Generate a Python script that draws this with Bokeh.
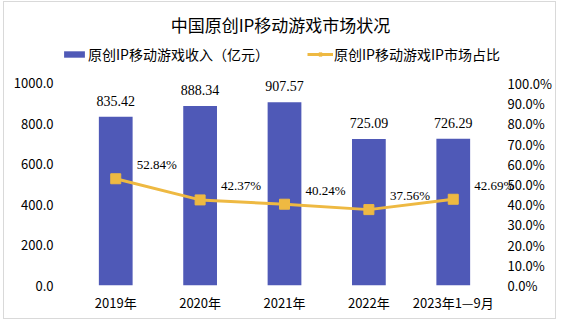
from bokeh.plotting import figure
from bokeh.models import (ColumnDataSource, Range1d, LinearAxis, NumeralTickFormatter, FactorRange,
                          PrintfTickFormatter, LabelSet, Label, Legend, LegendItem, FixedTicker)
from bokeh.embed import file_html
from bokeh.resources import INLINE

categories = ["2019年", "2020年", "2021年", "2022年", "2023年1—9月"]
revenue = [835.42, 888.34, 907.57, 725.09, 726.29]
share = [52.84, 42.37, 40.24, 37.56, 42.69]
left_ticks = [0, 200, 400, 600, 800, 1000]
right_ticks = [0, 10, 20, 30, 40, 50, 60, 70, 80, 90, 100]
title_text = "中国原创IP移动游戏市场状况"
bar_name = "原创IP移动游戏收入（亿元）"
line_name = "原创IP移动游戏IP市场占比"

FONT = "Noto Sans CJK SC"
BAR_COLOR = "#4F59B7"
LINE_COLOR = "#EEB942"

src = ColumnDataSource(dict(
    cat=categories,
    rev=revenue,
    share=share,
    rev_txt=[f"{v:.2f}" for v in revenue],
    share_txt=[f"{v:.2f}%" for v in share],
))

# frame spans nearly whole canvas; axes ticks stop at 1000 / 100%
Y_TOP = 1391.0
p = figure(x_range=FactorRange(*categories, range_padding=0.114, range_padding_units="percent"),
           y_range=Range1d(0, Y_TOP), width=553, height=318,
           output_backend="svg", toolbar_location=None,
           min_border_left=45, min_border_right=38, min_border_top=2, min_border_bottom=35)
p.styles = {"border": "1px solid #d9d9d9"}
p.margin = (1, 0, 0, 3)
p.outline_line_color = None
p.xgrid.grid_line_color = None
p.ygrid.grid_line_color = None

p.extra_y_ranges = {"pct": Range1d(0, Y_TOP / 10.0)}

bars = p.vbar(x="cat", top="rev", width=0.4, source=src, fill_color=BAR_COLOR, line_color=None)
line = p.line(x="cat", y="share", source=src, y_range_name="pct", line_color=LINE_COLOR, line_width=3)
pts = p.scatter(x="cat", y="share", source=src, y_range_name="pct", marker="square", size=10,
                fill_color=LINE_COLOR, line_color=LINE_COLOR)

# axes
for ax in [p.xaxis[0], p.yaxis[0]]:
    ax.axis_line_color = None
    ax.major_tick_line_color = None
    ax.minor_tick_line_color = None
    ax.major_label_text_font = FONT
    ax.major_label_text_font_size = "13px"
    ax.major_label_text_color = "#000000"
    ax.major_tick_in = 0
    ax.major_tick_out = 0

p.yaxis[0].ticker = FixedTicker(ticks=left_ticks)
p.yaxis[0].formatter = NumeralTickFormatter(format="0.0")
p.yaxis[0].major_label_standoff = -4
p.xaxis[0].major_label_standoff = 7

rax = LinearAxis(y_range_name="pct", ticker=FixedTicker(ticks=right_ticks),
                 formatter=PrintfTickFormatter(format="%.1f%%"))
rax.axis_line_color = None
rax.major_tick_line_color = None
rax.minor_tick_line_color = None
rax.major_tick_in = 0
rax.major_tick_out = 0
rax.major_label_text_font = FONT
rax.major_label_text_font_size = "13px"
rax.major_label_text_color = "#000000"
rax.major_label_standoff = -12
p.add_layout(rax, "right")

# data labels
p.add_layout(LabelSet(x="cat", y="rev", text="rev_txt", source=src, y_offset=16,
                      text_align="center", text_baseline="middle",
                      text_font=FONT, text_font_size="14px", text_color="#000000"))
p.add_layout(LabelSet(x="cat", y="share", text="share_txt", source=src, y_range_name="pct",
                      x_offset=21, y_offset=14, text_align="left", text_baseline="middle",
                      text_font=FONT, text_font_size="13px", text_color="#000000"))

# title
p.add_layout(Label(x=231, y=261, x_units="screen", y_units="screen", text=title_text,
                   text_align="center", text_baseline="middle",
                   text_font=FONT, text_font_size="17px", text_color="#000000"))

legend = Legend(items=[LegendItem(label=bar_name, renderers=[bars]),
                       LegendItem(label=line_name, renderers=[line, pts])],
                location=(12, 221), orientation="horizontal")
legend.background_fill_alpha = 0
legend.border_line_color = None
legend.padding = 0
legend.margin = 0
legend.spacing = 38
legend.glyph_width = 26
legend.glyph_height = 8
legend.label_standoff = 1
legend.label_text_font = FONT
legend.label_text_font_size = "14px"
legend.label_text_color = "#000000"
legend.label_height = 14
p.add_layout(legend, "center")

open("out.html", "w").write(file_html(p, INLINE))
